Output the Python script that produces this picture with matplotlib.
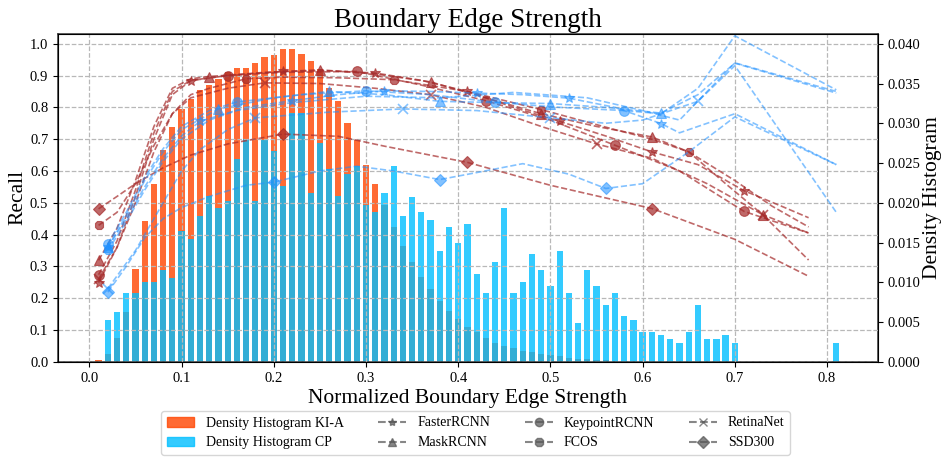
import numpy as np
import matplotlib
matplotlib.use("Agg")
import matplotlib.pyplot as plt
from matplotlib.lines import Line2D
from matplotlib.patches import Patch

plt.rcParams['font.family'] = ['Liberation Serif', 'DejaVu Serif']

# histogram bins (centres) and densities
bin_centres = np.round(np.arange(1, 82) * 0.01, 2)
kia_density = [0.0002, 0.0010, 0.0030, 0.0063, 0.0117, 0.0177, 0.0224, 0.0267, 0.0296, 0.0318,
               0.0331, 0.0342, 0.0348, 0.0356, 0.0364, 0.0369, 0.0370, 0.0376, 0.0383, 0.0386,
               0.0393, 0.0393, 0.0387, 0.0378, 0.0368, 0.0344, 0.0328, 0.0300, 0.0279, 0.0247,
               0.0224, 0.0197, 0.0170, 0.0146, 0.0126, 0.0107, 0.0092, 0.0077, 0.0064, 0.0054,
               0.0044, 0.0037, 0.0030, 0.0024, 0.0020, 0.0017, 0.0014, 0.0012, 0.0010, 0.0008,
               0.0007, 0.0005, 0.0004, 0.0003, 0.0002, 0.0002, 0.0001] + [0.0] * 24
cp_density = [0.0, 0.0053, 0.0063, 0.0086, 0.0086, 0.0101, 0.0101, 0.0116, 0.0106, 0.0164,
              0.0154, 0.0183, 0.0208, 0.0193, 0.0202, 0.0255, 0.0280, 0.0202, 0.0279, 0.0265,
              0.0221, 0.0313, 0.0313, 0.0212, 0.0275, 0.0242, 0.0208, 0.0236, 0.0246, 0.0197,
              0.0188, 0.0212, 0.0246, 0.0183, 0.0207, 0.0188, 0.0178, 0.0140, 0.0169, 0.0149,
              0.0173, 0.0111, 0.0086, 0.0125, 0.0193, 0.0086, 0.0101, 0.0135, 0.0115, 0.0096,
              0.0140, 0.0086, 0.0049, 0.0116, 0.0096, 0.0072, 0.0086, 0.0058, 0.0053, 0.0038,
              0.0038, 0.0034, 0.0029, 0.0024, 0.0038, 0.0072, 0.0029, 0.0029, 0.0034, 0.0024,
              0.0, 0.0, 0.0, 0.0, 0.0, 0.0, 0.0, 0.0, 0.0, 0.0, 0.0024]

# recall curves, KI-A (red)
kia_faster_x = [0.01, 0.03, 0.05, 0.07, 0.09, 0.11, 0.15, 0.21, 0.26, 0.31, 0.36, 0.41, 0.46, 0.51, 0.56, 0.61, 0.66, 0.71, 0.75, 0.78]
kia_faster_r = [0.249, 0.36, 0.52, 0.70, 0.84, 0.884, 0.90, 0.913, 0.915, 0.908, 0.885, 0.850, 0.80, 0.756, 0.71, 0.660, 0.62, 0.538, 0.49, 0.453]
kia_faster_mk = [0.01, 0.11, 0.21, 0.31, 0.41, 0.51, 0.61, 0.71]

kia_mask_x = [0.01, 0.03, 0.05, 0.07, 0.09, 0.11, 0.13, 0.19, 0.25, 0.31, 0.37, 0.43, 0.49, 0.55, 0.61, 0.65, 0.69, 0.73, 0.78]
kia_mask_r = [0.319, 0.42, 0.57, 0.74, 0.86, 0.89, 0.897, 0.91, 0.918, 0.905, 0.880, 0.83, 0.780, 0.74, 0.707, 0.66, 0.56, 0.463, 0.405]
kia_mask_mk = [0.01, 0.13, 0.25, 0.37, 0.49, 0.61, 0.73]

kia_keypoint_x = [0.01, 0.03, 0.05, 0.07, 0.09, 0.11, 0.15, 0.21, 0.29, 0.36, 0.43, 0.50, 0.57, 0.64, 0.71, 0.78]
kia_keypoint_r = [0.274, 0.38, 0.54, 0.72, 0.85, 0.885, 0.90, 0.91, 0.913, 0.87, 0.821, 0.76, 0.681, 0.60, 0.473, 0.405]
kia_keypoint_mk = [0.01, 0.15, 0.29, 0.43, 0.57, 0.71]

kia_fcos_x = [0.01, 0.03, 0.05, 0.07, 0.09, 0.11, 0.13, 0.17, 0.21, 0.27, 0.33, 0.41, 0.49, 0.57, 0.61, 0.65, 0.70, 0.74, 0.78]
kia_fcos_r = [0.429, 0.47, 0.56, 0.68, 0.78, 0.84, 0.86, 0.89, 0.895, 0.893, 0.887, 0.85, 0.793, 0.73, 0.70, 0.660, 0.57, 0.49, 0.424]
kia_fcos_mk = [0.01, 0.17, 0.33, 0.49, 0.65]

kia_retina_x = [0.01, 0.03, 0.05, 0.07, 0.09, 0.11, 0.15, 0.19, 0.25, 0.31, 0.37, 0.43, 0.49, 0.55, 0.61, 0.67, 0.73, 0.78]
kia_retina_r = [0.26, 0.36, 0.50, 0.66, 0.78, 0.83, 0.86, 0.877, 0.875, 0.86, 0.84, 0.80, 0.74, 0.685, 0.64, 0.56, 0.463, 0.32]
kia_retina_mk = [0.01, 0.19, 0.37, 0.55, 0.73]

kia_ssd_x = [0.01, 0.03, 0.05, 0.08, 0.11, 0.15, 0.21, 0.27, 0.32, 0.38, 0.41, 0.50, 0.61, 0.70, 0.78]
kia_ssd_r = [0.481, 0.52, 0.56, 0.61, 0.65, 0.685, 0.716, 0.709, 0.678, 0.644, 0.627, 0.555, 0.482, 0.385, 0.269]
kia_ssd_mk = [0.01, 0.21, 0.41, 0.61]

# recall curves, CP (blue)
cp_faster_x = [0.02, 0.04, 0.06, 0.08, 0.10, 0.12, 0.17, 0.22, 0.27, 0.32, 0.37, 0.42, 0.47, 0.52, 0.57, 0.62, 0.64, 0.70, 0.81]
cp_faster_r = [0.36, 0.45, 0.55, 0.64, 0.71, 0.756, 0.80, 0.821, 0.84, 0.852, 0.85, 0.845, 0.84, 0.829, 0.80, 0.749, 0.72, 0.78, 0.62]
cp_faster_mk = [0.02, 0.12, 0.22, 0.32, 0.42, 0.52, 0.62]

cp_mask_x = [0.02, 0.04, 0.06, 0.08, 0.10, 0.14, 0.20, 0.26, 0.32, 0.38, 0.44, 0.50, 0.56, 0.62, 0.66, 0.70, 0.81]
cp_mask_r = [0.36, 0.46, 0.57, 0.66, 0.73, 0.795, 0.83, 0.850, 0.84, 0.819, 0.815, 0.812, 0.80, 0.782, 0.84, 0.939, 0.845]
cp_mask_mk = [0.02, 0.14, 0.26, 0.38, 0.50, 0.62]

cp_keypoint_x = [0.02, 0.04, 0.06, 0.08, 0.10, 0.13, 0.16, 0.23, 0.30, 0.37, 0.44, 0.51, 0.58, 0.62, 0.66, 0.70, 0.81]
cp_keypoint_r = [0.37, 0.47, 0.58, 0.67, 0.74, 0.79, 0.817, 0.84, 0.852, 0.84, 0.816, 0.80, 0.790, 0.78, 0.86, 1.025, 0.855]
cp_keypoint_mk = [0.02, 0.16, 0.30, 0.44, 0.58]

cp_fcos_x = [0.02, 0.04, 0.06, 0.08, 0.10, 0.13, 0.16, 0.22, 0.30, 0.38, 0.46, 0.54, 0.60, 0.64, 0.70, 0.81]
cp_fcos_r = [0.35, 0.44, 0.54, 0.63, 0.70, 0.76, 0.79, 0.815, 0.835, 0.83, 0.847, 0.83, 0.79, 0.76, 0.94, 0.85]
cp_fcos_mk = [0.02]

cp_retina_x = [0.02, 0.05, 0.08, 0.10, 0.12, 0.15, 0.18, 0.26, 0.34, 0.42, 0.50, 0.56, 0.60, 0.66, 0.70, 0.81]
cp_retina_r = [0.23, 0.35, 0.50, 0.60, 0.667, 0.73, 0.767, 0.785, 0.795, 0.79, 0.767, 0.75, 0.76, 0.819, 0.931, 0.47]
cp_retina_mk = [0.02, 0.18, 0.34, 0.50, 0.66]

cp_ssd_x = [0.02, 0.04, 0.06, 0.08, 0.10, 0.13, 0.17, 0.20, 0.25, 0.29, 0.33, 0.38, 0.42, 0.47, 0.52, 0.56, 0.60, 0.65, 0.70, 0.81]
cp_ssd_r = [0.219, 0.30, 0.39, 0.45, 0.485, 0.52, 0.555, 0.565, 0.60, 0.615, 0.60, 0.573, 0.595, 0.623, 0.59, 0.545, 0.56, 0.66, 0.77, 0.62]
cp_ssd_mk = [0.02, 0.20, 0.38, 0.56]

models = ['FasterRCNN', 'MaskRCNN', 'KeypointRCNN', 'FCOS', 'RetinaNet', 'SSD300']
markers = ['*', '^', 'o', '8', 'x', 'D']
msizes = [7, 7, 7, 7, 7, 6]

kia_curves = [(kia_faster_x, kia_faster_r, kia_faster_mk), (kia_mask_x, kia_mask_r, kia_mask_mk),
              (kia_keypoint_x, kia_keypoint_r, kia_keypoint_mk), (kia_fcos_x, kia_fcos_r, kia_fcos_mk),
              (kia_retina_x, kia_retina_r, kia_retina_mk), (kia_ssd_x, kia_ssd_r, kia_ssd_mk)]
cp_curves = [(cp_faster_x, cp_faster_r, cp_faster_mk), (cp_mask_x, cp_mask_r, cp_mask_mk),
             (cp_keypoint_x, cp_keypoint_r, cp_keypoint_mk), (cp_fcos_x, cp_fcos_r, cp_fcos_mk),
             (cp_retina_x, cp_retina_r, cp_retina_mk), (cp_ssd_x, cp_ssd_r, cp_ssd_mk)]

RED = '#a52a2a'
BLUE = '#1e90ff'

fig = plt.figure(figsize=(9.51, 4.58), dpi=100)
ax = fig.add_axes([0.061, 0.21, 0.862, 0.716])
ax2 = ax.twinx()

# histograms on the right axis
ax2.bar(bin_centres, kia_density, width=0.0068, color='orangered', alpha=0.8, zorder=1)
ax2.bar(bin_centres, cp_density, width=0.0068, color='deepskyblue', alpha=0.8, zorder=2)
ax2.set_ylim(0, 0.04125)
ax2.set_yticks(np.arange(0, 0.0401, 0.005))
ax2.set_yticklabels([f'{v:.3f}' for v in np.arange(0, 0.0401, 0.005)])
ax2.set_ylabel('Density Histogram', fontsize=15.5, labelpad=2)

# recall curves on the left axis, drawn above the bars
ax.set_zorder(ax2.get_zorder() + 1)
ax.patch.set_visible(False)

for curves, col, a in [(kia_curves, RED, 0.7), (cp_curves, BLUE, 0.55)]:
    for (xs, rs, mk), m, ms in zip(curves, markers, msizes):
        idx = [xs.index(v) for v in mk]
        ax.plot(xs, rs, linestyle='--', color=col, alpha=a, linewidth=1.2,
                marker=m, markersize=ms, markevery=idx,
                markeredgewidth=1.2 if m == 'x' else 0.8)

ax.set_xlim(-0.034, 0.855)
ax.set_ylim(0, 1.031)
ax.set_xticks(np.arange(0, 0.81, 0.1))
ax.set_xticklabels([f'{v:.1f}' for v in np.arange(0, 0.81, 0.1)])
ax.set_yticks(np.arange(0, 1.01, 0.1))
ax.set_yticklabels([f'{v:.1f}' for v in np.arange(0, 1.01, 0.1)])
ax.grid(True, linestyle='--', color='#b8b8b8', linewidth=0.9)
ax.tick_params(labelsize=10.5)
ax2.tick_params(labelsize=10.5)
ax.set_xlabel('Normalized Boundary Edge Strength', fontsize=15.5, labelpad=3)
ax.set_ylabel('Recall', fontsize=15.5, labelpad=1.5)
ax.set_title('Boundary Edge Strength', fontsize=19.5, pad=5)
for sp in ax2.spines.values():
    sp.set_color('#444444')
    sp.set_linewidth(1.2)

handles = [Patch(color='orangered', alpha=0.8, label='Density Histogram KI-A'),
           Patch(color='deepskyblue', alpha=0.8, label='Density Histogram CP')]
for name, m in zip(models, markers):
    handles.append(Line2D([], [], linestyle='--', color='#555555', alpha=0.7, marker=m,
                          markersize=6, label=name))
fig.legend(handles=handles, loc='upper center', bbox_to_anchor=(0.5, 1 - 404 / 458), ncol=4,
           fontsize=10, frameon=True, columnspacing=2.5, handlelength=2.0)

fig.savefig('out.png', dpi=100)
